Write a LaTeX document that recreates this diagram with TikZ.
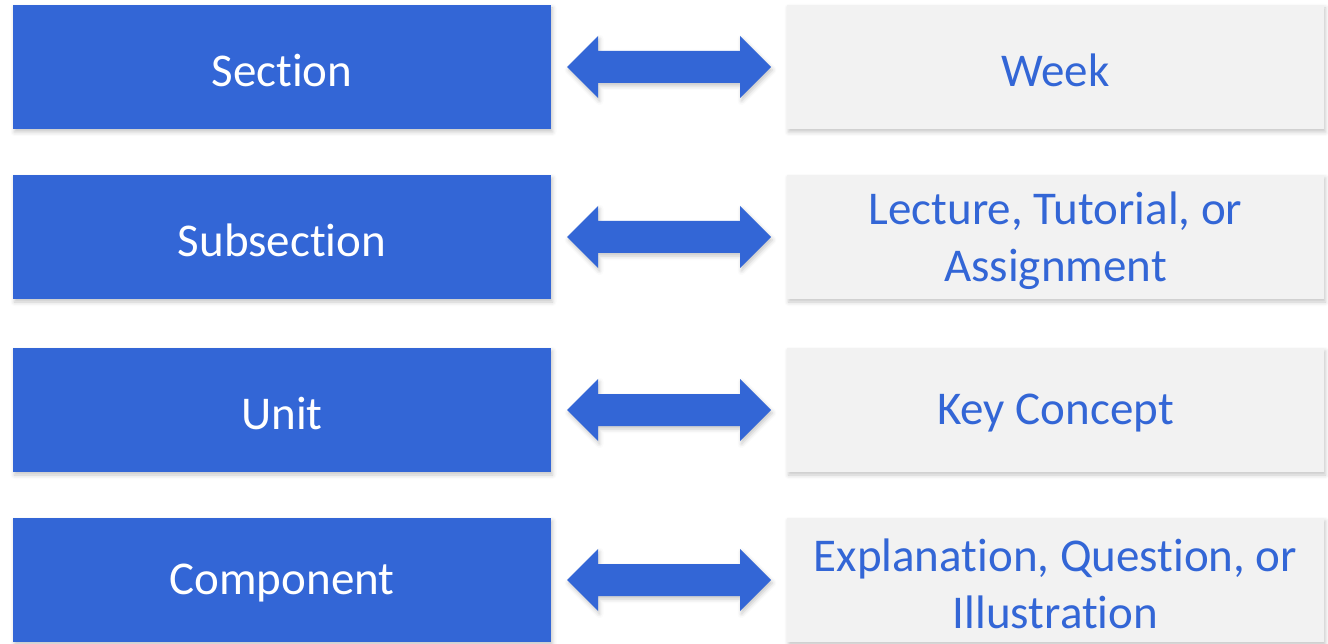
\documentclass[tikz,border=0pt]{standalone}
\usepackage{fontspec}
\setmainfont[Ligatures={NoCommon}]{Carlito}
\usetikzlibrary{shadows.blur,calc}
\definecolor{mblue}{RGB}{51,102,214}
\definecolor{mgray}{RGB}{242,242,242}
\tikzset{
  softshadow/.style={blur shadow={shadow xshift=1.5pt,shadow yshift=-3pt,shadow blur radius=4pt,shadow opacity=22}},
  boxtext/.style={inner sep=0pt,align=center,font=\fontsize{47}{57}\selectfont,yshift=-3.5pt},
  leftbox/.style={rectangle,fill=mblue,minimum width=538pt,minimum height=124pt,inner sep=0pt,outer sep=0pt,softshadow,
    label={[boxtext,text=white]center:#1}},
  rightbox/.style={rectangle,fill=mgray,minimum width=537pt,minimum height=124pt,inner sep=0pt,outer sep=0pt,softshadow,
    label={[boxtext,text=mblue]center:#1}},
  dblarrow/.style={fill=mblue,softshadow}
}
\newcommand{\linkarrow}[2]{%
  \path (#1.east) ++(16,0) coordinate (#1a);
  \path (#2.west) ++(-16,0) coordinate (#2b);
  \path[dblarrow] (#1a) -- ($(#1a)+(31,-31)$) -- ($(#1a)+(31,-16)$) -- ($(#2b)+(-31,-16)$) -- ($(#2b)+(-31,-31)$) -- (#2b) -- ($(#2b)+(-31,31)$) -- ($(#2b)+(-31,16)$) -- ($(#1a)+(31,16)$) -- ($(#1a)+(31,31)$) -- cycle;
}
\begin{document}
\begin{tikzpicture}[x=1pt,y=-1pt]
\useasboundingbox (0,0) rectangle (1328,644);
\node[leftbox={Section}] (L1) at (282,67) {};
\node[leftbox={Subsection}] (L2) at (282,237) {};
\node[leftbox={Unit}] (L3) at (282,410) {};
\node[leftbox={Component}] (L4) at (282,580) {};
\node[rightbox={Week}] (R1) at (1055.5,67) {};
\node[rightbox={Lecture, Tutorial, or\\Assignment}] (R2) at (1055.5,237) {};
\node[rightbox={Key Concept}] (R3) at (1055.5,410) {};
\node[rightbox={Explanation, Question, or\\Illustration}] (R4) at (1055.5,580) {};
\linkarrow{L1}{R1}
\linkarrow{L2}{R2}
\linkarrow{L3}{R3}
\linkarrow{L4}{R4}
\end{tikzpicture}
\end{document}
